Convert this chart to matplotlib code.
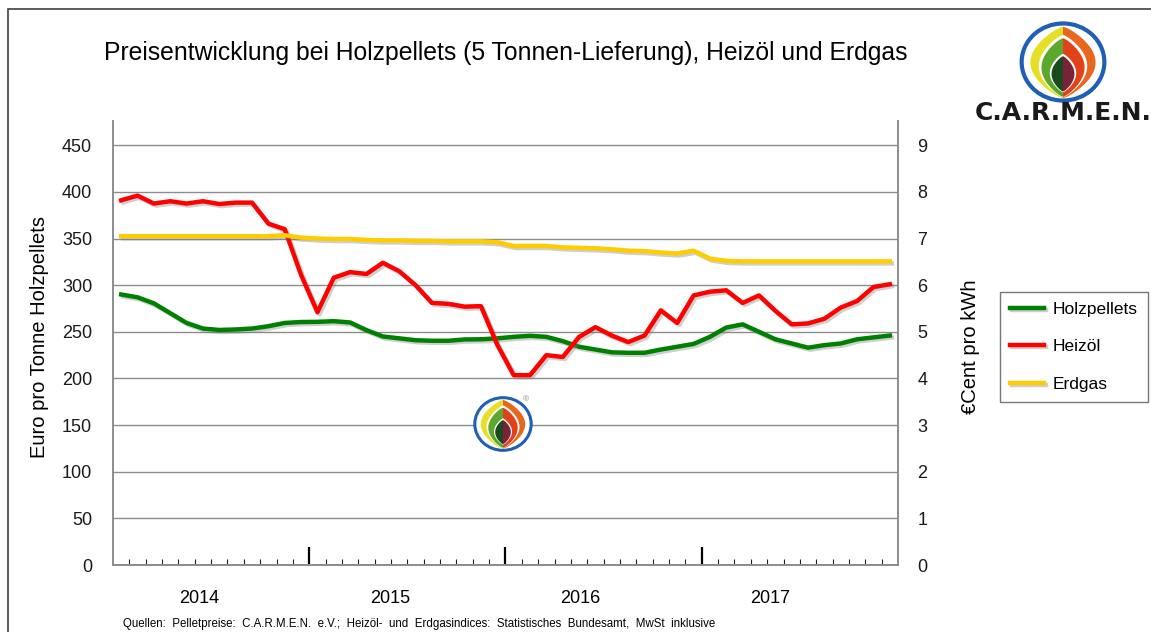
import numpy as np
import matplotlib
matplotlib.use('Agg')
import matplotlib.pyplot as plt
import matplotlib.patheffects as pe
from matplotlib.patches import Polygon, Ellipse, Rectangle

plt.rcParams['font.family'] = ['Liberation Sans', 'DejaVu Sans']

# monthly values Jan 2014 .. Dec 2017
# Holzpellets in Euro pro Tonne (left axis)
holzpellets = [290, 287, 280.5, 270, 259.5, 253.5, 252, 252.5, 253.5, 256, 259.5, 260.5,
               260.7, 261.4, 260, 251.8, 245, 243, 241, 240.4, 240.4, 241.8, 242, 243,
               244.6, 245.7, 244.6, 240, 234, 231, 228, 227.5, 227.5, 231, 234, 237,
               244.6, 254.6, 258, 250, 242, 237.5, 233, 235.7, 237.5, 242, 244, 246]
# Heizöl and Erdgas in €Cent pro kWh (right axis)
heizoel = [7.82, 7.92, 7.75, 7.80, 7.75, 7.80, 7.74, 7.77, 7.77, 7.32, 7.20, 6.22,
           5.42, 6.16, 6.28, 6.24, 6.48, 6.30, 6.00, 5.62, 5.60, 5.54, 5.55, 4.72,
           4.07, 4.07, 4.50, 4.46, 4.89, 5.10, 4.92, 4.78, 4.92, 5.46, 5.19, 5.78,
           5.86, 5.89, 5.62, 5.78, 5.45, 5.16, 5.18, 5.28, 5.52, 5.66, 5.96, 6.02]
erdgas = [7.05, 7.05, 7.05, 7.05, 7.05, 7.05, 7.05, 7.05, 7.05, 7.05, 7.07, 7.02,
          7.00, 6.99, 6.99, 6.97, 6.96, 6.96, 6.95, 6.95, 6.94, 6.94, 6.94, 6.92,
          6.84, 6.84, 6.84, 6.81, 6.80, 6.79, 6.77, 6.74, 6.73, 6.70, 6.68, 6.74,
          6.57, 6.52, 6.51, 6.51, 6.51, 6.51, 6.51, 6.51, 6.51, 6.51, 6.51, 6.51]
years = ['2014', '2015', '2016', '2017']
left_ticks = [0, 50, 100, 150, 200, 250, 300, 350, 400, 450]
right_ticks = [0, 1, 2, 3, 4, 5, 6, 7, 8, 9]

W, H = 1151, 632
fig = plt.figure(figsize=(W / 100, H / 100), dpi=100)


def draw_logo(cx, cy, w, h, ring_lw):
    '''draws the C.A.R.M.E.N. flame logo centred at pixel (cx, cy)'''
    lax = fig.add_axes([(cx - w / 2) / W, 1 - (cy + h / 2) / H, w / W, h / H])
    lax.set_xlim(-1, 1)
    lax.set_ylim(-1, 1)
    lax.axis('off')
    lax.add_patch(Ellipse((0, 0), 1.88, 1.88, fc='white', ec='#1f5fb4', lw=ring_lw))
    t = np.linspace(0, 1, 80)
    layers = [(0.74, 0.86, -0.88, '#e5e025', '#e8661e'),
              (0.55, 0.66, -0.86, 'white', 'white'),
              (0.49, 0.58, -0.85, '#5ca82e', '#e2421a'),
              (0.30, 0.20, -0.74, 'white', 'white'),
              (0.26, 0.14, -0.72, '#1b4a1c', '#7a2238')]
    for half, top, bot, lc, rc in layers:
        y = top - (top - bot) * t
        x = half * np.sin(np.pi * t) ** 0.75
        for side, col in ((-1, lc), (1, rc)):
            pts = np.column_stack([np.r_[side * x, np.zeros_like(x)], np.r_[y, y[::-1]]])
            lax.add_patch(Polygon(pts, closed=True, fc=col, ec='none'))
    return lax


ax = fig.add_axes([113 / W, 1 - 565 / H, (898 - 113) / W, (565 - 121) / H])
ax2 = ax.twinx()

x = np.arange(len(holzpellets)) + 0.5
shadow = [pe.SimpleLineShadow(offset=(1.5, -1.5), shadow_color='#777777', alpha=0.35), pe.Normal()]
l1, = ax.plot(x, holzpellets, color='#008000', lw=3.2, path_effects=shadow, solid_joinstyle='round')
l2, = ax2.plot(x, heizoel, color='#ff0000', lw=3.2, path_effects=shadow, solid_joinstyle='round')
l3, = ax2.plot(x, erdgas, color='#ffcc00', lw=3.2, path_effects=shadow, solid_joinstyle='round')

ax.set_xlim(0, len(holzpellets))
ax.set_ylim(0, 476)
ax2.set_ylim(0, 476 / 50)
ax.set_yticks(left_ticks)
ax2.set_yticks(right_ticks)
ax.yaxis.grid(True, color='#8c8c8c', lw=1)
ax.set_axisbelow(True)
ax.tick_params(axis='y', length=0, pad=15, labelsize=13, labelcolor='#1a1a1a')
ax2.tick_params(axis='y', length=0, pad=14, labelsize=13, labelcolor='#1a1a1a')

ax.set_xticks(np.arange(12, len(holzpellets), 12))
ax.set_xticks(np.arange(1, len(holzpellets)), minor=True)
ax.tick_params(axis='x', which='major', direction='in', length=13, width=1.6, color='black',
               labelbottom=False)
ax.tick_params(axis='x', which='minor', direction='in', length=4, width=0.8, color='#222222')
for i, yr in enumerate(years):
    ax.text(5.3 + i * 11.63, -0.075, yr, transform=ax.get_xaxis_transform(), ha='center',
            va='center', fontsize=13)

for a in (ax, ax2):
    a.spines['top'].set_visible(False)
    for s in ('left', 'right', 'bottom'):
        a.spines[s].set_color('#8c8c8c')
        a.spines[s].set_linewidth(1.2)

fig.text(40 / W, 1 - 337 / H, 'Euro pro Tonne Holzpellets', rotation=90, ha='center',
         va='center', fontsize=14.5)
fig.text(970 / W, 1 - 347 / H, '€Cent pro kWh', rotation=90, ha='center', va='center',
         fontsize=14.5)
fig.text(104 / W, 1 - 60 / H, 'Preisentwicklung bei Holzpellets (5 Tonnen-Lieferung), Heizöl und Erdgas',
         ha='left', va='baseline', fontsize=17.8)
fig.text(123 / W, 1 - 627 / H,
         'Quellen:  Pelletpreise:  C.A.R.M.E.N.  e.V.;  Heizöl-  und  Erdgasindices:  '
         'Statistisches  Bundesamt,  MwSt  inklusive',
         ha='left', va='baseline', fontsize=8.3)

fig.legend([l1, l2, l3], ['Holzpellets', 'Heizöl', 'Erdgas'], loc='upper left',
           bbox_to_anchor=(1000 / W, 1 - 292 / H), fontsize=12.5, frameon=True, fancybox=False,
           edgecolor='#555555', handlelength=2.0, labelspacing=1.3, borderpad=0.55,
           borderaxespad=0, handletextpad=0.5)

# outer frame of the slide
fig.add_artist(Rectangle((8 / W, -0.1), 1.2, 1 - 9 / H + 0.1, transform=fig.transFigure,
                         fill=False, ec='#404040', lw=1.2))

draw_logo(1063, 62, 88, 82, 3)
fig.text(1063 / W, 1 - 113 / H, 'C.A.R.M.E.N.', ha='center', va='center', fontsize=18,
         fontweight='bold', family=['DejaVu Sans'], color='#1a1a1a')

draw_logo(503, 424, 60, 56, 2.2)
fig.text(526 / W, 1 - 400 / H, '®', ha='center', va='center', fontsize=6, color='#888888')

fig.savefig('out.png', dpi=100)
